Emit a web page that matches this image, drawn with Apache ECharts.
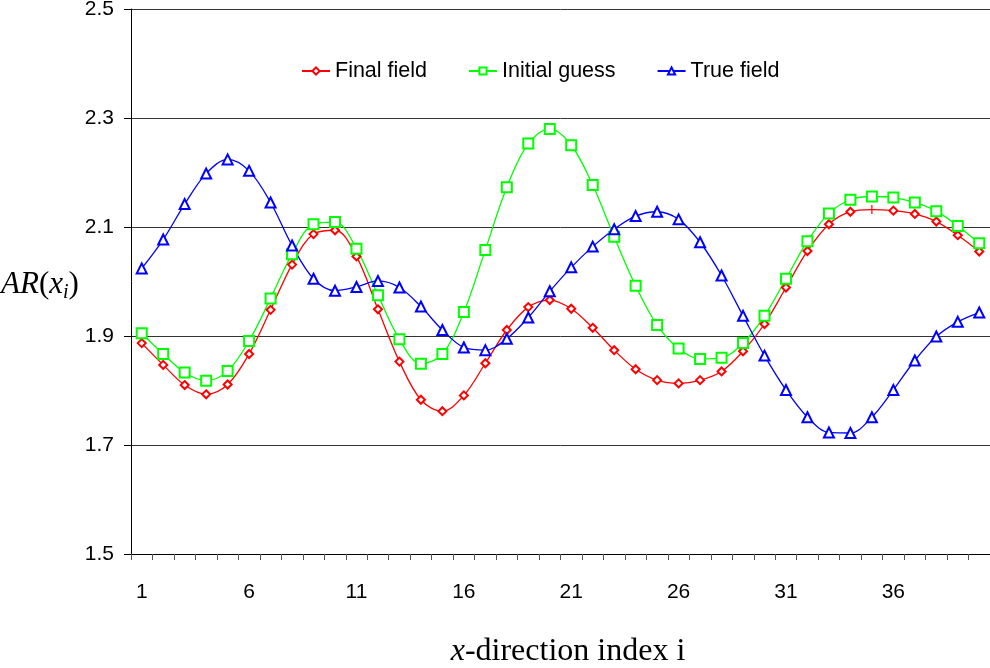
<!DOCTYPE html>
<html>
<head>
<meta charset="utf-8">
<title>AR field along x</title>
<script src="https://cdn.jsdelivr.net/npm/echarts@6/dist/echarts.min.js"></script>
<style>
  html, body { margin: 0; padding: 0; background: #fff; }
  #chart { width: 990px; height: 668px; }
</style>
</head>
<body>
<div id="chart"></div>
<script>
// x-direction index, 1..40
const indices = ['1','2','3','4','5','6','7','8','9','10','11','12','13','14','15','16','17','18','19','20',
                 '21','22','23','24','25','26','27','28','29','30','31','32','33','34','35','36','37','38','39','40'];

const finalField = [1.887, 1.847, 1.810, 1.793, 1.811, 1.867, 1.948, 2.031, 2.087, 2.094,
                    2.046, 1.949, 1.853, 1.783, 1.762, 1.791, 1.850, 1.911, 1.953, 1.966,
                    1.950, 1.915, 1.874, 1.839, 1.819, 1.813, 1.819, 1.835, 1.872, 1.922,
                    1.989, 2.056, 2.105, 2.128, 2.132, 2.130, 2.124, 2.110, 2.085, 2.055];

const initialGuess = [1.905, 1.867, 1.833, 1.818, 1.836, 1.891, 1.969, 2.050, 2.105, 2.109,
                      2.060, 1.975, 1.894, 1.849, 1.867, 1.944, 2.058, 2.173, 2.253, 2.280,
                      2.250, 2.177, 2.082, 1.992, 1.920, 1.877, 1.858, 1.860, 1.887, 1.937,
                      2.005, 2.074, 2.125, 2.150, 2.156, 2.154, 2.145, 2.129, 2.102, 2.070];

const trueField = [2.024, 2.077, 2.142, 2.198, 2.224, 2.203, 2.145, 2.066, 2.005, 1.983,
                   1.990, 2.001, 1.989, 1.954, 1.911, 1.879, 1.874, 1.895, 1.934, 1.982,
                   2.026, 2.064, 2.096, 2.120, 2.128, 2.114, 2.072, 2.011, 1.937, 1.864,
                   1.801, 1.751, 1.723, 1.722, 1.751, 1.801, 1.855, 1.899, 1.926, 1.943];

const yTicks = [1.5, 1.7, 1.9, 2.1, 2.3, 2.5];

const sans = 'Arial, "Liberation Sans", sans-serif';
const serif = '"Times New Roman", "Liberation Serif", serif';

const chart = echarts.init(document.getElementById('chart'), null, { renderer: 'canvas' });

function lineSeries(name, data, color, symbol, size) {
  return {
    name: name,
    type: 'line',
    data: data,
    smooth: 0.35,
    symbol: symbol,
    symbolSize: size,
    showAllSymbol: true,
    color: color,
    lineStyle: { color: color, width: 1.3 },
    itemStyle: { color: color, borderColor: color, borderWidth: 1.3 },
    emphasis: { disabled: true },
    z: 3
  };
}

// the final-field point at index 35 is marked with a short vertical bar
const finalData = finalField.map((v, k) =>
  k === 34 ? { value: v, symbol: 'rect', symbolSize: [1.2, 9], itemStyle: { color: '#ff0000', borderWidth: 0 } } : v
);

const option = {
  animation: false,
  backgroundColor: '#ffffff',
  grid: { left: 131, top: 9, width: 859, height: 545, containLabel: false, outerBoundsMode: 'none' },
  legend: {
    left: 296,
    top: 55,
    itemGap: 41,
    itemWidth: 28,
    itemHeight: 9,
    textStyle: { fontFamily: sans, fontSize: 21.5, color: '#000' },
    data: ['Final field', 'Initial guess', 'True field']
  },
  xAxis: {
    type: 'category',
    data: indices,
    boundaryGap: true,
    name: '{it|x}{n|-direction index i}',
    nameLocation: 'middle',
    nameGap: 82,
    nameTextStyle: {
      padding: [0, 0, 0, 15],
      rich: {
        it: { fontFamily: serif, fontStyle: 'italic', fontSize: 32, color: '#000' },
        n: { fontFamily: serif, fontSize: 32, color: '#000' }
      }
    },
    axisLine: { lineStyle: { color: '#000', width: 1 } },
    axisTick: { show: true, alignWithLabel: false, interval: 0, length: 6, inside: false,
                lineStyle: { color: '#555' } },
    axisLabel: { interval: 4, margin: 28, fontFamily: sans, fontSize: 21, color: '#000' },
    splitLine: { show: false }
  },
  yAxis: {
    type: 'value',
    min: 1.5,
    max: 2.5,
    interval: 0.1,
    name: '{it|AR}{n|(}{it|x}{sub|i}{n|)}',
    nameLocation: 'middle',
    nameRotate: 0,
    nameGap: 38,
    nameTextStyle: {
      align: 'right',
      padding: [6, 0, 0, 5],
      rich: {
        it: { fontFamily: serif, fontStyle: 'italic', fontSize: 31, color: '#000' },
        n: { fontFamily: serif, fontSize: 31, color: '#000' },
        sub: { fontFamily: serif, fontStyle: 'italic', fontSize: 20, color: '#000',
               verticalAlign: 'bottom', padding: [16, 0, 0, 0] }
      }
    },
    axisLine: { show: true, lineStyle: { color: '#000', width: 1 } },
    axisTick: { show: true, length: 7, customValues: yTicks, lineStyle: { color: '#000' } },
    axisLabel: { customValues: yTicks, margin: 17, fontFamily: sans, fontSize: 21, color: '#000',
                 formatter: v => v.toFixed(1) },
    splitLine: { show: true, lineStyle: { color: '#333', width: 1 } }
  },
  series: [
    lineSeries('Final field', finalData, '#ff0000', 'emptyDiamond', 8),
    lineSeries('Initial guess', initialGuess, '#00ff00', 'emptyRect', 10),
    lineSeries('True field', trueField, '#0000ff', 'emptyTriangle', 10)
  ]
};

chart.setOption(option);
</script>
</body>
</html>
